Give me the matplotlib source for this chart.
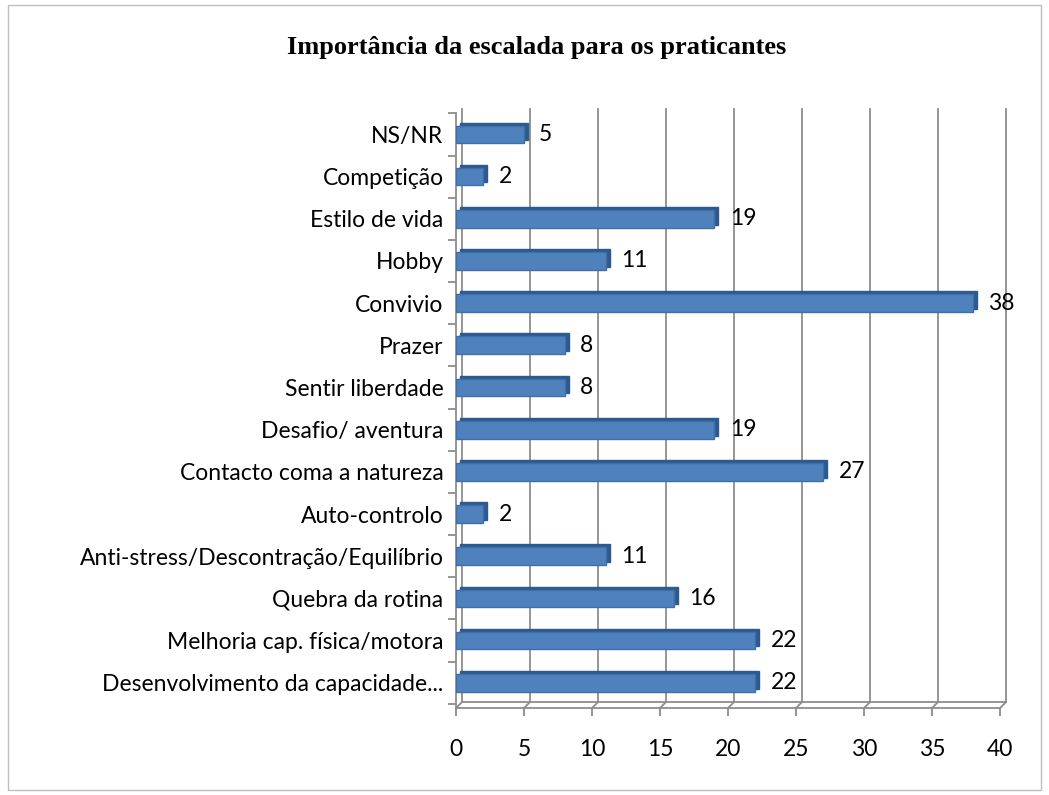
import matplotlib.pyplot as plt
import matplotlib.transforms as mtransforms
from matplotlib.patches import Rectangle

categorias = ['NS/NR', 'Competição', 'Estilo de vida', 'Hobby', 'Convivio', 'Prazer',
              'Sentir liberdade', 'Desafio/ aventura', 'Contacto coma a natureza',
              'Auto-controlo', 'Anti-stress/Descontração/Equilíbrio', 'Quebra da rotina',
              'Melhoria cap. física/motora', 'Desenvolvimento da capacidade...']
valores = [5, 2, 19, 11, 38, 8, 8, 19, 27, 2, 11, 16, 22, 22]
ticks_x = [0, 5, 10, 15, 20, 25, 30, 35, 40]

azul = '#4f81bd'
escuro = '#2c5a8f'
cinza = '#8c8c8c'


def main():
    fig = plt.figure(figsize=(10.49, 7.95), dpi=100)
    fig.patches.append(Rectangle((0.008, 0.006), 0.984, 0.988, transform=fig.transFigure,
                                 fill=False, edgecolor='#bfbfbf', linewidth=1))
    ax = fig.add_axes([0.4347, 0.1094, 0.5186, 0.748])
    n = len(categorias)
    ys = [n - 1 - i for i in range(n)]

    # parede de fundo (efeito 3D) deslocada
    desloc = mtransforms.offset_copy(ax.transData, fig=fig, x=6, y=6, units='dots')
    for t in ticks_x:
        ax.plot([t, t], [-0.6, 13.45], color=cinza, lw=1.3, transform=desloc, clip_on=False, zorder=1)
        ax.annotate('', xy=(t, -0.6), xytext=(6, 6), textcoords='offset pixels',
                    arrowprops=dict(arrowstyle='-', color=cinza, lw=1.3, shrinkA=0, shrinkB=0))
    ax.plot([0, 40], [-0.6, -0.6], color=cinza, lw=1.3, transform=desloc, clip_on=False, zorder=1)

    # face lateral das barras (3D)
    lado = mtransforms.offset_copy(ax.transData, fig=fig, x=4, y=3, units='dots')
    ax.barh(ys, valores, height=0.42, color=escuro, edgecolor=escuro, linewidth=1,
            transform=lado, zorder=2)
    ax.barh(ys, valores, height=0.42, color=azul, edgecolor='#3f6fa8', linewidth=1, zorder=3)
    for y, v in zip(ys, valores):
        ax.annotate(str(v), xy=(v, y), xytext=(11, 0), textcoords='offset points',
                    va='center', ha='left', fontsize=16.5, family='Lato', zorder=4)

    ax.set_xlim(0, 40)
    ax.set_ylim(-0.6, 13.45)
    ax.set_xticks(ticks_x)
    ax.set_xticklabels([str(t) for t in ticks_x], fontsize=16.5, family='Lato')
    ax.set_yticks(ys)
    ax.set_yticklabels(categorias, fontsize=16.5, family='Lato')
    ax.set_yticks([y + 0.5 for y in range(-1, n)], minor=True)
    ax.tick_params(axis='y', which='major', length=0, pad=9)
    ax.tick_params(axis='y', which='minor', length=6, color=cinza, width=1.3)
    ax.tick_params(axis='x', length=6, color=cinza, width=1.3, pad=16)
    for s in ['top', 'right']:
        ax.spines[s].set_visible(False)
    for s in ['left', 'bottom']:
        ax.spines[s].set_color(cinza)
        ax.spines[s].set_linewidth(1.3)
    ax.set_facecolor('none')

    fig.text(0.512, 0.94, 'Importância da escalada para os praticantes', ha='center', va='center',
             fontsize=19, fontweight='bold', family='Liberation Serif')
    fig.savefig('out.png', dpi=100)


main()
